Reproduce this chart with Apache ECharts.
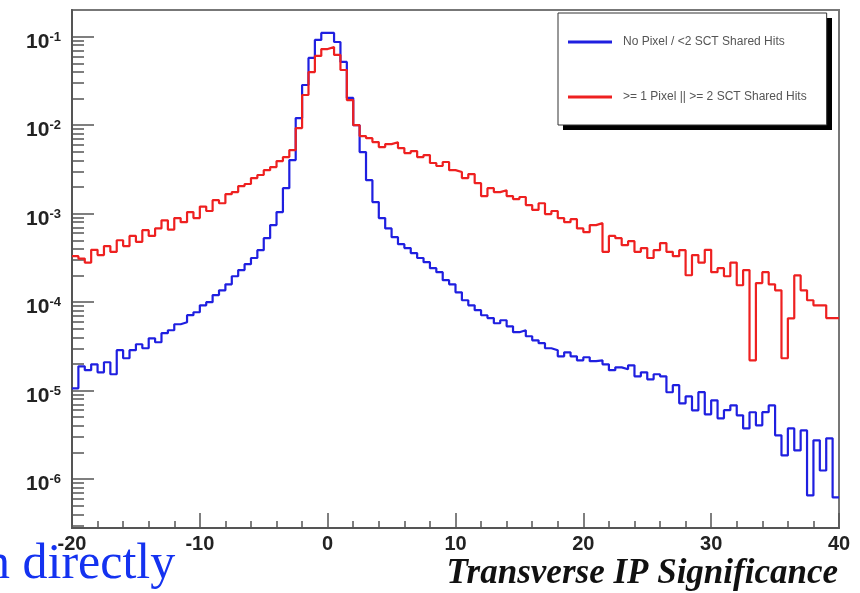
<!DOCTYPE html>
<html>
<head>
<meta charset="utf-8">
<script src="https://cdn.jsdelivr.net/npm/echarts@6/dist/echarts.min.js"></script>
<style>
    html, body { margin: 0; padding: 0; background: #fff; }
    #chart { width: 860px; height: 593px; }
</style>
</head>
<body>
<div id="chart"></div>
<script>
// 直方图分格：-20 到 40，每格 0.5
const binLow = -20;
const binWidth = 0.5;

// No Pixel / <2 SCT Shared Hits
const blueValues = [
    1.06e-5, 1.88e-5, 1.70e-5, 1.98e-5, 1.61e-5, 2.09e-5, 1.53e-5, 2.86e-5, 2.32e-5, 2.86e-5,
    3.34e-5, 3.01e-5, 3.90e-5, 3.52e-5, 4.45e-5, 4.81e-5, 5.62e-5, 5.92e-5, 7.11e-5, 7.68e-5,
    9.2e-5, 9.97e-5, 1.20e-4, 1.36e-4, 1.59e-4, 1.96e-4, 2.30e-4, 2.68e-4, 3.15e-4, 3.86e-4,
    5.28e-4, 7.42e-4, 1.04e-3, 1.94e-3, 4.03e-3, 1.20e-2, 2.84e-2, 5.74e-2, 9.17e-2, 1.10e-1,
    1.10e-1, 8.7e-2, 5.18e-2, 2.03e-2, 1.0e-2, 4.96e-3, 2.39e-3, 1.35e-3, 8.9e-4, 6.8e-4,
    5.42e-4, 4.52e-4, 4.08e-4, 3.58e-4, 3.15e-4, 2.83e-4, 2.42e-4, 2.18e-4, 1.77e-4, 1.59e-4,
    1.29e-4, 1.05e-4, 9.2e-5, 8.1e-5, 7.1e-5, 6.6e-5, 5.77e-5, 6.24e-5, 5.33e-5, 4.57e-5,
    4.81e-5, 4.11e-5, 3.7e-5, 3.43e-5, 3.01e-5, 2.86e-5, 2.44e-5, 2.71e-5, 2.44e-5, 2.2e-5,
    2.38e-5, 2.15e-5, 2.2e-5, 1.98e-5, 1.70e-5, 1.83e-5, 1.74e-5, 1.93e-5, 1.45e-5, 1.61e-5,
    1.34e-5, 1.53e-5, 1.45e-5, 9.58e-6, 1.15e-5, 7.18e-6, 8.6e-6, 5.98e-6, 9.6e-6, 5.39e-6,
    7.77e-6, 4.86e-6, 6.0e-6, 6.81e-6, 5.25e-6, 3.74e-6, 5.69e-6, 4.05e-6, 5.7e-6, 6.8e-6,
    3.12e-6, 1.85e-6, 3.74e-6, 2.11e-6, 3.55e-6, 6.53e-7, 2.74e-6, 1.25e-6, 2.89e-6, 6.2e-7
];

// >= 1 Pixel || >= 2 SCT Shared Hits
const redValues = [
    3.3e-4, 3.1e-4, 2.8e-4, 3.9e-4, 3.4e-4, 4.3e-4, 3.7e-4, 5.0e-4, 4.3e-4, 5.6e-4,
    4.8e-4, 6.5e-4, 5.6e-4, 6.8e-4, 8.4e-4, 6.6e-4, 8.9e-4, 8.0e-4, 1.04e-3, 8.9e-4,
    1.2e-3, 1.07e-3, 1.42e-3, 1.31e-3, 1.66e-3, 1.75e-3, 2.05e-3, 2.16e-3, 2.52e-3, 2.73e-3,
    3.10e-3, 3.36e-3, 3.92e-3, 4.35e-3, 5.23e-3, 9.27e-3, 2.19e-2, 3.98e-2, 6.05e-2, 7.24e-2,
    7.62e-2, 6.21e-2, 4.20e-2, 1.92e-2, 1.0e-2, 7.53e-3, 7.13e-3, 6.43e-3, 5.65e-3, 6.1e-3,
    6.4e-3, 5.5e-3, 4.83e-3, 5.09e-3, 4.35e-3, 4.59e-3, 3.73e-3, 3.45e-3, 3.83e-3, 3.1e-3,
    2.95e-3, 2.52e-3, 2.80e-3, 2.21e-3, 1.58e-3, 1.94e-3, 1.75e-3, 1.84e-3, 1.58e-3, 1.46e-3,
    1.54e-3, 1.25e-3, 1.10e-3, 1.31e-3, 9.87e-4, 1.07e-3, 8.9e-4, 8.0e-4, 8.65e-4, 6.8e-4,
    6.17e-4, 7.42e-4, 7.8e-4, 3.7e-4, 5.6e-4, 5.28e-4, 4.4e-4, 4.88e-4, 3.7e-4, 4.08e-4,
    3.15e-4, 3.86e-4, 4.64e-4, 3.7e-4, 3.3e-4, 3.86e-4, 2.01e-4, 3.4e-4, 2.8e-4, 3.9e-4,
    2.18e-4, 2.42e-4, 1.96e-4, 2.8e-4, 1.55e-4, 2.30e-4, 2.2e-5, 1.64e-4, 2.18e-4, 1.59e-4,
    1.36e-4, 2.32e-5, 6.56e-5, 2.0e-4, 1.36e-4, 1.05e-4, 9.2e-5, 9.2e-5, 6.6e-5, 6.6e-5
];

const seriesNames = ['No Pixel / <2 SCT Shared Hits', '>= 1 Pixel || >= 2 SCT Shared Hits'];
const xTitle = 'Transverse IP Significance';

// y 轴主刻度（10 的幂）
const yMajorTicks = [1e-6, 1e-5, 1e-4, 1e-3, 1e-2, 1e-1];
const yMin = 2.8e-7;
const yMax = 0.2;

// y 轴次刻度：每个量级内的 2..9
let yMinorTicks = [];
[1e-7].concat(yMajorTicks).forEach(function (p) {
    for (let m = 2; m <= 9; m++) {
        let v = m * p;
        if (v > yMin && v < yMax) yMinorTicks.push(v);
    }
});

/**
 * 把每格的值变成阶梯线的点（每格左边缘 + 最后一个右边缘）
 */
function toSteps(values) {
    let pts = values.map(function (v, i) {
        return [binLow + i * binWidth, v];
    });
    pts.push([binLow + values.length * binWidth, values[values.length - 1]]);
    return pts;
}

let chart = echarts.init(document.getElementById('chart'));

const fontSans = '"Liberation Sans", Arial, Helvetica, sans-serif';
const fontSerif = '"Liberation Serif", "Times New Roman", serif';

let option = {
    animation: false,
    backgroundColor: '#fff',
    grid: {
        left: 72,
        top: 10,
        width: 767,
        height: 518,
        outerBoundsMode: 'none',
        containLabel: false,
        show: true,
        borderColor: '#777',
        borderWidth: 2,
        backgroundColor: '#fff'
    },
    legend: {
        orient: 'vertical',
        left: 558,
        top: 13,
        z: 10,
        padding: [22, 20, 21, 10],
        itemGap: 41,
        itemWidth: 44,
        itemHeight: 3,
        icon: 'rect',
        backgroundColor: '#fff',
        borderColor: '#333',
        borderWidth: 1,
        textStyle: {
            fontSize: 12,
            color: '#555',
            fontFamily: fontSans,
            lineHeight: 14,
            padding: [0, 0, 0, 6]
        },
        data: seriesNames
    },
    xAxis: {
        type: 'value',
        min: -20,
        max: 40,
        interval: 10,
        axisLine: { onZero: false, lineStyle: { color: '#555', width: 2 } },
        axisTick: { inside: true, length: 15, lineStyle: { color: '#555', width: 1.5 } },
        minorTick: { show: true, splitNumber: 5, length: 7, lineStyle: { color: '#555', width: 1.5 } },
        splitLine: { show: false },
        axisLabel: {
            margin: 6,
            fontFamily: fontSans,
            fontWeight: 'bold',
            fontSize: 20,
            color: '#222'
        }
    },
    yAxis: [
        {
            type: 'log',
            min: yMin,
            max: yMax,
            position: 'left',
            axisLine: { show: true, onZero: false, lineStyle: { color: '#555', width: 2 } },
            axisTick: {
                inside: true,
                length: 22,
                customValues: yMajorTicks,
                lineStyle: { color: '#555', width: 1.5 }
            },
            splitLine: { show: false },
            axisLabel: {
                customValues: yMajorTicks,
                margin: 11,
                padding: [10, 0, 0, 0],
                formatter: function (v) {
                    return '{b|10}{s|' + Math.round(Math.log10(v)) + '}';
                },
                rich: {
                    b: {
                        fontFamily: fontSans, fontWeight: 'bold', fontSize: 21,
                        color: '#222', lineHeight: 22, verticalAlign: 'bottom'
                    },
                    s: {
                        fontFamily: fontSans, fontWeight: 'bold', fontSize: 13,
                        color: '#222', lineHeight: 22, verticalAlign: 'top'
                    }
                }
            }
        },
        {
            type: 'log',
            min: yMin,
            max: yMax,
            position: 'left',
            axisLine: { show: false, onZero: false },
            axisTick: {
                inside: true,
                length: 12,
                customValues: yMinorTicks,
                lineStyle: { color: '#555', width: 1.5 }
            },
            axisLabel: { show: false },
            splitLine: { show: false }
        }
    ],
    series: [
        {
            name: seriesNames[0],
            type: 'line',
            step: 'end',
            symbol: 'none',
            data: toSteps(blueValues),
            itemStyle: { color: '#1f1fe0' },
            lineStyle: { color: '#1f1fe0', width: 2.2 }
        },
        {
            name: seriesNames[1],
            type: 'line',
            step: 'end',
            symbol: 'none',
            data: toSteps(redValues),
            itemStyle: { color: '#ee2020' },
            lineStyle: { color: '#ee2020', width: 2.2 }
        }
    ],
    graphic: [
        {
            // 图例框的黑色阴影
            type: 'rect',
            z: 5,
            shape: { x: 563, y: 18, width: 269, height: 112 },
            style: { fill: '#000' }
        },
        {
            // x 轴标题（右对齐到坐标轴末端）
            type: 'text',
            x: 838,
            y: 556,
            style: {
                text: xTitle,
                font: 'italic bold 35px ' + fontSerif,
                fill: '#111',
                align: 'right'
            }
        },
        {
            type: 'text',
            x: -15,
            y: 540,
            z: 100,
            style: {
                text: 'n directly',
                font: '50px ' + fontSerif,
                fill: '#1432f0'
            }
        }
    ]
};
chart.setOption(option);
</script>
</body>
</html>
